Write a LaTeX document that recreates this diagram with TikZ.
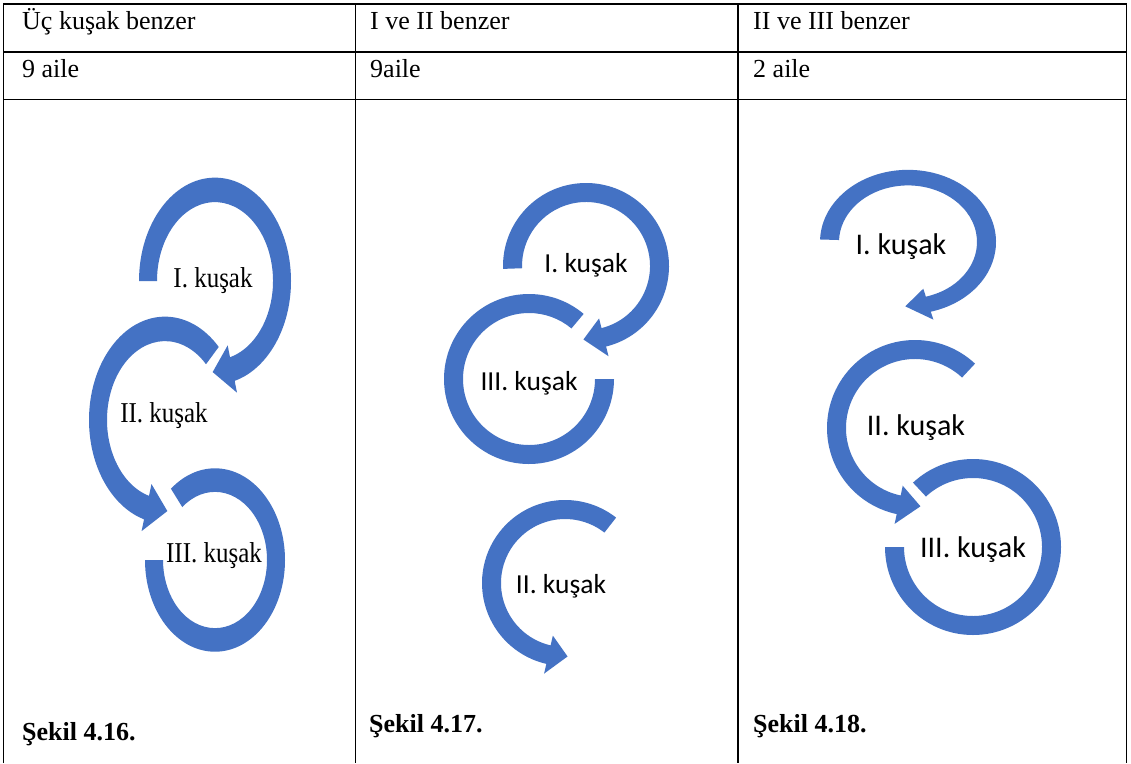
\documentclass[tikz,border=0pt]{standalone}
\usepackage{fontspec}
\usepackage{graphicx}
\setmainfont{Liberation Serif}
\newfontfamily\calib{Carlito}
\definecolor{oblue}{HTML}{4472C4}
\tikzset{
  grid/.style={line width=1.7pt,black},
  celltext/.style={anchor=base west,inner sep=0pt,font=\fontsize{26}{30}\selectfont},
  figtext/.style={anchor=base west,inner sep=0pt,font=\fontsize{26}{30}\selectfont\bfseries},
  lblA/.style={inner sep=0pt,font=\fontsize{25}{28}\selectfont},
  lblB/.style={inner sep=0pt,font=\calib\fontsize{27.5}{30}\selectfont},
  lblC/.style={inner sep=0pt,font=\calib\fontsize{30}{33}\selectfont},
  arrowfill/.style={fill=oblue}
}
\newcommand{\tallA}[1]{\scalebox{1}[1.15]{#1}}
% #1 cx, #2 cy, #3 yscale, #4 Rin, #5 Rout, #6 start angle, #7 head base angle, #8 tip angle, #9 barb extension
\newcommand{\cArrowHead}[9]{%
  \begin{scope}[shift={(#1,#2)},y=1pt,yscale=#3]
    \pgfmathsetmacro\rmid{(#4+#5)/2}
    \pgfmathsetmacro\rbo{#5+#9}
    \pgfmathsetmacro\rbi{#4-#9}
    \fill[arrowfill] (#6:#5) arc[start angle=#6,end angle=#7,radius=#5]
      -- (#7:\rbo) -- (#8:\rmid) -- (#7:\rbi) -- (#7:#4)
      arc[start angle=#7,end angle=#6,radius=#4] -- cycle;
  \end{scope}}
% #1 cx, #2 cy, #3 yscale, #4 Rin, #5 Rout, #6 start angle, #7 end angle
\newcommand{\cArrowRing}[7]{%
  \begin{scope}[shift={(#1,#2)},y=1pt,yscale=#3]
    \fill[arrowfill] (#6:#5) arc[start angle=#6,end angle=#7,radius=#5]
      -- (#7:#4) arc[start angle=#7,end angle=#6,radius=#4] -- cycle;
  \end{scope}}
\begin{document}
\begin{tikzpicture}[x=1pt,y=-1pt]
\useasboundingbox (0,0) rectangle (1131,763);
\fill[white] (0,0) rectangle (1131,763);
% table
\draw[grid] (3.5,763) -- (3.5,4) -- (1126.5,4) -- (1126.5,763);
\draw[grid] (3.5,52) -- (1126.5,52);
\draw[grid] (3.5,99.5) -- (1126.5,99.5);
\draw[grid] (355.5,4) -- (355.5,763);
\draw[grid] (738,4) -- (738,763);
% header texts
\node[celltext] (h1) at (22,29.5) {Üç kuşak benzer};
\node[celltext] (h2) at (370,29.5) {I ve II benzer};
\node[celltext] (h3) at (753,29.5) {II ve III benzer};
\node[celltext] (n1) at (22,77.5) {9 aile};
\node[celltext] (n2) at (370,77.5) {9aile};
\node[celltext] (n3) at (753,77.5) {2 aile};
\node[figtext] (f1) at (22,740) {Şekil 4.16.};
\node[figtext] (f2) at (369,732) {Şekil 4.17.};
\node[figtext] (f3) at (753,732) {Şekil 4.18.};
% column 1
\cArrowHead{215}{281}{1.36}{58}{76}{180}{-75}{-92}{9}
\cArrowHead{165}{420}{1.36}{58}{76}{45}{254}{272}{9}
\cArrowRing{215}{560}{1.31}{52}{70}{180}{489}
\node[lblA] (a1) at (213,281) {\tallA{I. kuşak}};
\node[lblA] (a2) at (164,416) {\tallA{II. kuşak}};
\node[lblA] (a3) at (214,556) {\tallA{III. kuşak}};
% column 2
\cArrowHead{586}{266}{1}{64}{83}{182}{-76}{-92}{10}
\cArrowRing{529}{379}{1}{66}{85}{50}{360}
\cArrowHead{565}{583}{1}{64}{83}{52}{257}{272}{10}
\node[lblB] (b1) at (586,265) {I. kuşak};
\node[lblB] (b3) at (529,383) {III. kuşak};
\node[lblB] (b2) at (561,586) {II. kuşak};
% column 3
\cArrowHead{908}{242}{0.82}{69}{88}{178}{-75}{-92}{10}
\cArrowHead{915}{428}{1}{69}{88}{47}{258}{274}{10}
\cArrowRing{973}{547}{1}{69}{88}{180}{493}
\node[lblC] (c1) at (901,247) {I. kuşak};
\node[lblC] (c2) at (916,428) {II. kuşak};
\node[lblC] (c3) at (973,550) {III. kuşak};
\end{tikzpicture}
\end{document}
